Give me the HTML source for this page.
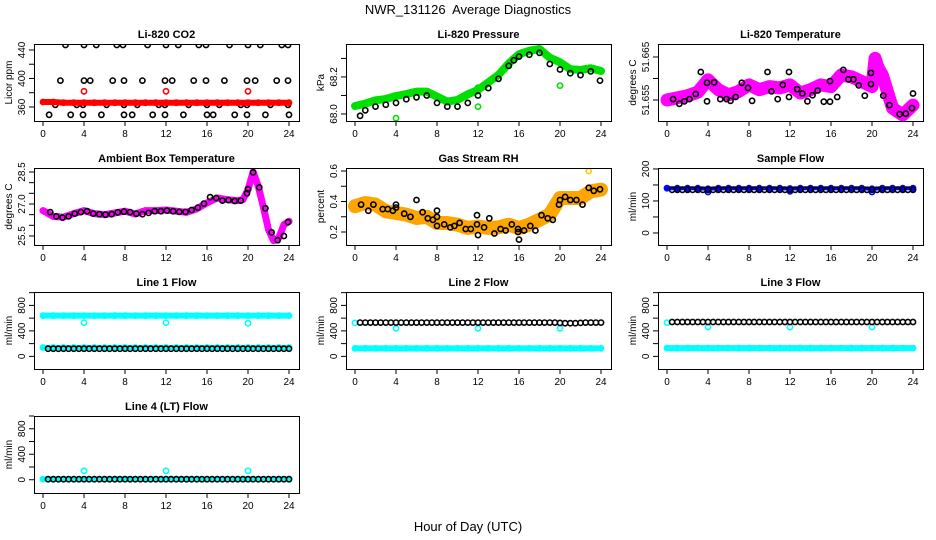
<!DOCTYPE html>
<html><head><meta charset="utf-8"><title>NWR_131126 Average Diagnostics</title>
<style>
html,body{margin:0;padding:0;background:#fff;}
svg{display:block;font-family:"Liberation Sans",sans-serif;}
</style></head>
<body>
<svg id="chart" width="936" height="540" viewBox="0 0 936 540" xmlns="http://www.w3.org/2000/svg">
<rect x="0" y="0" width="936" height="540" fill="#fff"/>
<text x="468" y="14" text-anchor="middle" font-size="13" style="white-space:pre">NWR_131126&#160; Average Diagnostics</text>
<text x="468" y="531" text-anchor="middle" font-size="13">Hour of Day (UTC)</text>
</svg>
<script>
// ---------- shared axis data ----------
const xTicks = [0,4,8,12,16,20,24];
const hourly = [0,1,2,3,4,5,6,7,8,9,10,11,12,13,14,15,16,17,18,19,20,21,22,23,24];
const halfHours = [0.5,1,1.5,2,2.5,3,3.5,4,4.5,5,5.5,6,6.5,7,7.5,8,8.5,9,9.5,10,10.5,11,11.5,12,12.5,13,13.5,14,14.5,15,15.5,16,16.5,17,17.5,18,18.5,19,19.5,20,20.5,21,21.5,22,22.5,23,23.5,24];

// ---------- CO2 ----------
const co2Hours = [2.2,4.0,5.2,7.2,7.8,10.2,12.0,13.2,15.2,15.9,18.2,20.0,21.2,23.3,23.9, 1.7,4.0,4.6,6.8,7.9,9.7,11.9,12.6,14.7,15.9,17.7,19.9,20.7,22.8,23.9, 1.2,3.3,3.9,6.2,7.9,9.2,11.3,11.9,14.2,16.0,17.2,19.3,19.9,22.2,23.9, 0.6,2.7,3.9,5.7,7.9,8.7,10.7,11.9,13.7,16.0,16.6,18.7,19.9,21.7,24.0];
const co2Vals = [447,447,447,447,447,447,447,447,447,447,447,447,447,447,447, 397,397,397,397,397,397,397,397,397,397,397,397,397,397,397, 363,363,363,363,363,363,363,363,363,363,363,363,363,363,363, 349,349,349,349,349,349,349,349,349,349,349,349,349,349,349];
const co2Red = [367,367,366,366,366,366,366,366,366,366,366,366,366,366,366,366,366,366,366,366,366,366,366,366,366];
const co2RedOutH = [4,12,20];
const co2RedOutV = [382,382,382];

// ---------- Pressure ----------
const presGreen = [68.043,68.056,68.074,68.081,68.097,68.108,68.121,68.121,68.094,68.067,68.076,68.106,68.130,68.171,68.211,68.274,68.323,68.341,68.351,68.304,68.279,68.242,68.238,68.247,68.232];
const presBlackH = [0.5,1.0,2.0,3.0,4.0,5.0,6.0,7.0,8.0,9.0,10.0,11.0,12.0,13.0,14.0,15.0,15.5,16.0,17.0,18.0,19.0,20.0,21.0,22.0,23.0,23.9];
const presBlackV = [67.99,68.02,68.04,68.05,68.06,68.08,68.09,68.10,68.06,68.04,68.04,68.06,68.10,68.14,68.19,68.26,68.29,68.31,68.32,68.33,68.27,68.24,68.22,68.21,68.23,68.18];
const presOutH = [4.0,12.0,12.0,20.0];
const presOutV = [67.977,68.04,68.142,68.153];

// ---------- Li-820 Temperature ----------
const tempMagH = [0,1,2,3,4,5,6,7,8,9,10,11,12,13,14,15,16,17,18,19,20,20.3,20.6,21,22,23,24];
const tempMagV = [51.655,51.6555,51.656,51.6568,51.6597,51.6574,51.6562,51.657,51.6585,51.6574,51.6581,51.6578,51.6585,51.6566,51.6574,51.6585,51.6581,51.6608,51.6604,51.6593,51.6581,51.6647,51.6625,51.6608,51.6531,51.6515,51.6538];
const tempBlackH = [0.6,1.2,1.7,2.2,2.8,3.3,3.9,3.9,4.6,5.2,5.8,6.2,6.7,7.3,7.9,8.3,9.8,10.2,10.8,11.3,11.9,11.9,12.7,13.2,13.7,14.2,14.7,15.3,15.9,15.9,16.6,17.2,17.7,18.2,18.7,19.3,19.9,19.9,21.1,21.7,22.7,23.3,23.9,24.0];
const tempBlackV = [51.6552,51.6541,51.6547,51.6552,51.6564,51.6615,51.659,51.6547,51.6591,51.6552,51.6552,51.6548,51.6557,51.659,51.6578,51.6548,51.6615,51.657,51.6552,51.6585,51.6615,51.6557,51.6575,51.6565,51.6547,51.6561,51.6572,51.6546,51.6546,51.6594,51.6557,51.662,51.6598,51.6598,51.6584,51.656,51.6613,51.6587,51.656,51.6538,51.6517,51.6518,51.6531,51.6565];

// ---------- Ambient Box Temperature ----------
const ambMagH = [0,1,2,3,4,5,6,7,8,9,10,11,12,13,14,15,16,17,18,19,19.5,20,20.5,21,21.5,22,22.5,23,23.5,24];
const ambMagV = [26.69,26.42,26.38,26.55,26.69,26.55,26.50,26.58,26.66,26.53,26.69,26.69,26.72,26.66,26.61,26.77,27.05,27.28,27.20,27.16,27.2,27.67,28.5,27.83,26.85,25.80,25.28,25.41,26.03,26.19];
const ambBlackH = [0.7,1.3,1.9,2.5,3.1,3.7,4.3,4.9,5.5,6.1,6.7,7.3,7.9,8.5,9.1,9.7,10.3,10.9,11.5,12.1,12.7,13.3,13.9,14.5,15.1,15.7,16.3,16.9,17.5,18.1,18.7,19.3,19.9,20.0,20.5,21.1,21.7,22.3,22.9,23.5,23.9];
const ambBlackV = [26.62,26.42,26.36,26.42,26.55,26.62,26.66,26.55,26.52,26.50,26.52,26.61,26.64,26.62,26.55,26.52,26.58,26.66,26.66,26.69,26.66,26.63,26.63,26.72,26.83,27.02,27.32,27.28,27.16,27.18,27.14,27.16,27.5,27.7,28.48,27.78,26.8,25.67,25.3,25.5,26.15];

// ---------- Gas Stream RH ----------
const rhOrange = [0.369,0.39,0.38,0.336,0.325,0.314,0.292,0.30,0.259,0.259,0.248,0.226,0.236,0.226,0.23,0.248,0.226,0.248,0.281,0.314,0.423,0.423,0.423,0.467,0.478];
const rhBlackH = [0.6,1.3,1.8,2.7,3.2,3.7,4.0,4.0,4.8,5.4,6.0,6.6,7.1,7.6,8.0,8.0,8.0,8.7,9.3,9.7,10.2,10.8,11.3,11.9,11.9,12.0,12.6,13.1,13.6,14.2,14.7,15.3,15.9,15.9,16.0,16.5,17.1,17.6,18.2,18.8,19.3,19.9,20.0,20.5,21.0,21.6,22.2,22.8,23.3,23.9];
const rhBlackV = [0.38,0.34,0.38,0.35,0.35,0.34,0.38,0.36,0.32,0.30,0.41,0.33,0.29,0.28,0.34,0.30,0.24,0.25,0.23,0.24,0.26,0.22,0.22,0.31,0.25,0.18,0.23,0.29,0.19,0.22,0.21,0.25,0.22,0.20,0.15,0.21,0.24,0.21,0.31,0.29,0.28,0.38,0.41,0.43,0.41,0.41,0.38,0.49,0.47,0.48];
const rhOutH = [22.8];
const rhOutV = [0.60];

// ---------- Sample Flow ----------
const sampBlue = [140,140,140,140,138,140,140,140,140,140,140,140,139,140,140,140,140,140,140,140,138,140,140,140,140];
const sampBlack = [135,135,135,135,135,135,135,135,135,135,135,135,135,135,135,135,135,135,135,135,135,135,135,135,135,135,135,135,135,135,135,135,135,135,135,135,135,135,135,135,135,135,135,135,135,135,135,135];
const sampOutH = [4,12,20];
const sampOutV = [128,130,128];

// ---------- Line flows ----------
const l1CyanHigh = [640,640,640,640,640,640,640,640,640,640,640,640,640,640,640,640,640,640,640,640,640,640,640,640,640];
const l1CyanLow = [140,140,140,140,140,140,140,140,140,140,140,140,140,140,140,140,140,140,140,140,140,140,140,140,140];
const l1Black = [120,120,120,120,120,120,120,120,120,120,120,120,120,120,120,120,120,120,120,120,120,120,120,120,120,120,120,120,120,120,120,120,120,120,120,120,120,120,120,120,120,120,120,120,120,120,120,120];
const l1DipH = [4,12,20];
const l1DipV = [530,530,520];

const l2CyanLow = [125,125,125,125,125,125,125,125,125,125,125,125,125,125,125,125,125,125,125,125,125,125,125,125,125];
const l2Black = [530,530,530,530,530,530,530,530,530,530,530,530,530,530,530,530,530,530,530,530,530,530,530,530,530,530,530,530,530,530,530,530,530,530,530,530,530,530,530,525,520,520,520,525,530,530,530,530];
const l2CyanPtH = [0,4,12,20];
const l2CyanPtV = [525,440,440,440];

const l3CyanLow = [130,130,130,130,130,130,130,130,130,130,130,130,130,130,130,130,130,130,130,130,130,130,130,130,130];
const l3Black = [540,540,540,540,540,540,540,540,540,540,540,540,540,540,540,540,540,540,540,540,540,540,540,540,540,540,540,540,540,540,540,540,540,540,540,540,540,540,540,540,540,540,540,540,540,540,540,540];
const l3CyanPtH = [0,4,12,20];
const l3CyanPtV = [530,460,460,460];

const l4CyanLow = [10,10,10,10,10,10,10,10,10,10,10,10,10,10,10,10,10,10,10,10,10,10,10,10,10];
const l4Black = [8,8,8,8,8,8,8,8,8,8,8,8,8,8,8,8,8,8,8,8,8,8,8,8,8,8,8,8,8,8,8,8,8,8,8,8,8,8,8,8,8,8,8,8,8,8,8,8];
const l4CyanPtH = [4,12,20];
const l4CyanPtV = [140,140,140];

const flowTicks = [0,200,400,600,800,1000];
const flowLabels = [0,400,800];

// ---------- drawing ----------
const NS = 'http://www.w3.org/2000/svg';
const svg = document.getElementById('chart');
const colLeft = [34,346,658], rowTop = [44,168,292,416];
const BW = 265, BH = 77;

function mk(tag, parent){ const e = document.createElementNS(NS, tag); parent.appendChild(e); return e; }

function panel(cfg){
  const L = colLeft[cfg.col], T = rowTop[cfg.row];
  const g = mk('g', svg);
  
  
  const xs = h => L + 9 + h / 24 * 246;
  const ys = v => T + (cfg.hi - v) / (cfg.hi - cfg.lo) * BH;
  const t = mk('text', g);
  
  
  t.setAttribute('x', L + BW/2); t.setAttribute('y', T - 6);
  t.setAttribute('text-anchor','middle'); t.setAttribute('font-size','11'); t.setAttribute('font-weight','bold');
  t.textContent = cfg.title;
  const clip = mk('clipPath', g); clip.setAttribute('id','clip-' + cfg.name);
  const cr = mk('rect', clip); cr.setAttribute('x',L); cr.setAttribute('y',T); cr.setAttribute('width',BW); cr.setAttribute('height',BH);
  const marks = mk('g', g); marks.setAttribute('clip-path','url(#clip-' + cfg.name + ')');
  
  
  cfg.layers.forEach(ly => {
    if (ly.band){
      const p = mk('polyline', marks);
      
      
      p.setAttribute('points', ly.h.map((h,i)=> xs(h).toFixed(1)+','+ys(ly.v[i]).toFixed(1)).join(' '));
      p.setAttribute('fill','none'); p.setAttribute('stroke', ly.color);
      p.setAttribute('stroke-width', ly.band); p.setAttribute('stroke-linejoin','round'); p.setAttribute('stroke-linecap','round');
    }
    ly.h.forEach((h,i) => {
      const c = mk('circle', marks);
      
      
      c.setAttribute('cx', xs(h).toFixed(1)); c.setAttribute('cy', ys(ly.v[i]).toFixed(1));
      c.setAttribute('r', 2.6); c.setAttribute('fill','none');
      c.setAttribute('stroke', ly.color); c.setAttribute('stroke-width', 1.6);
    });
  });
  const box = mk('rect', g);
  
  
  box.setAttribute('x',L+0.5); box.setAttribute('y',T+0.5); box.setAttribute('width',BW); box.setAttribute('height',BH);
  box.setAttribute('fill','none'); box.setAttribute('stroke','#000'); box.setAttribute('stroke-width','1');
  xTicks.forEach(h => {
    const ln = mk('line', g);
    
    
    ln.setAttribute('x1', xs(h)); ln.setAttribute('x2', xs(h)); ln.setAttribute('y1', T+BH); ln.setAttribute('y2', T+BH+5);
    ln.setAttribute('stroke','#000');
    const tx = mk('text', g);
    
    
    tx.setAttribute('x', xs(h)); tx.setAttribute('y', T+BH+16); tx.setAttribute('text-anchor','middle'); tx.setAttribute('font-size','10');
    tx.textContent = h;
  });
  cfg.yticks.forEach(v => {
    const ln = mk('line', g);
    
    
    ln.setAttribute('x1', L); ln.setAttribute('x2', L-5); ln.setAttribute('y1', ys(v)); ln.setAttribute('y2', ys(v));
    ln.setAttribute('stroke','#000');
  });
  cfg.ylabels.forEach(v => {
    const tx = mk('text', g);
    
    
    const x = L - 9, y = ys(v);
    tx.setAttribute('transform', 'translate(' + x + ',' + y + ') rotate(-90)');
    tx.setAttribute('text-anchor','middle'); tx.setAttribute('font-size','10');
    tx.textContent = cfg.fmt ? cfg.fmt(v) : v;
  });
  const yl = mk('text', g);
  
  
  yl.setAttribute('transform', 'translate(' + (L-22) + ',' + (T+BH/2) + ') rotate(-90)');
  yl.setAttribute('text-anchor','middle'); yl.setAttribute('font-size','10');
  yl.textContent = cfg.ylab;
}

panel({name:'co2', col:0,row:0, title:'Li-820 CO2', ylab:'Licor ppm', hi:448.4, lo:340.3,
  yticks:[360,380,400,420,440], ylabels:[360,400,440],
  layers:[{id:'black',color:'#000',h:co2Hours,v:co2Vals},
          {id:'red',color:'#f00',h:hourly,v:co2Red,band:6},
          {id:'red-outlier',color:'#f00',h:co2RedOutH,v:co2RedOutV}]});
panel({name:'pressure', col:1,row:0, title:'Li-820 Pressure', ylab:'kPa', hi:68.378, lo:67.962,
  yticks:[68.0,68.1,68.2,68.3], ylabels:[68.0,68.2], fmt:v=>v.toFixed(1),
  layers:[{id:'green',color:'#00e000',h:hourly,v:presGreen,band:8},
          {id:'green-outlier',color:'#00e000',h:presOutH,v:presOutV},
          {id:'black',color:'#000',h:presBlackH,v:presBlackV}]});
panel({name:'li820-temp', col:2,row:0, title:'Li-820 Temperature', ylab:'degrees C', hi:51.66802, lo:51.65011,
  yticks:[51.655,51.66,51.665], ylabels:[51.655,51.665], fmt:v=>v.toFixed(3),
  layers:[{id:'magenta',color:'#ff00ff',h:tempMagH,v:tempMagV,band:13},
          {id:'black',color:'#000',h:tempBlackH,v:tempBlackV}]});
panel({name:'ambient-temp', col:0,row:1, title:'Ambient Box Temperature', ylab:'degrees C', hi:28.6875, lo:25.077,
  yticks:[25.5,26,26.5,27,27.5,28,28.5], ylabels:[25.5,27.0,28.5], fmt:v=>v.toFixed(1),
  layers:[{id:'magenta',color:'#ff00ff',h:ambMagH,v:ambMagV,band:7},
          {id:'black',color:'#000',h:ambBlackH,v:ambBlackV}]});
panel({name:'rh', col:1,row:1, title:'Gas Stream RH', ylab:'percent', hi:0.6197, lo:0.1148,
  yticks:[0.2,0.3,0.4,0.5,0.6], ylabels:[0.2,0.4,0.6], fmt:v=>v.toFixed(1),
  layers:[{id:'orange',color:'#ffa500',h:hourly,v:rhOrange,band:14},
          {id:'orange-outlier',color:'#ffcc00',h:rhOutH,v:rhOutV},
          {id:'black',color:'#000',h:rhBlackH,v:rhBlackV}]});
panel({name:'sample-flow', col:2,row:1, title:'Sample Flow', ylab:'ml/min', hi:203, lo:-37.6,
  yticks:[0,50,100,150,200], ylabels:[0,100,200],
  layers:[{id:'blue',color:'#0000ff',h:hourly,v:sampBlue,band:4},
          {id:'blue-outlier',color:'#0000ff',h:sampOutH,v:sampOutV},
          {id:'black',color:'#000',h:halfHours,v:sampBlack}]});
panel({name:'line1-flow', col:0,row:2, title:'Line 1 Flow', ylab:'ml/min', hi:1010, lo:-198,
  yticks:flowTicks, ylabels:flowLabels,
  layers:[{id:'cyan-high',color:'#00ffff',h:hourly,v:l1CyanHigh,band:6},
          {id:'cyan-low',color:'#00ffff',h:hourly,v:l1CyanLow,band:5},
          {id:'cyan-dip',color:'#00ffff',h:l1DipH,v:l1DipV},
          {id:'black',color:'#000',h:halfHours,v:l1Black}]});
panel({name:'line2-flow', col:1,row:2, title:'Line 2 Flow', ylab:'ml/min', hi:1010, lo:-198,
  yticks:flowTicks, ylabels:flowLabels,
  layers:[{id:'cyan-low',color:'#00ffff',h:hourly,v:l2CyanLow,band:6},
          {id:'cyan-point',color:'#00ffff',h:l2CyanPtH,v:l2CyanPtV},
          {id:'black',color:'#000',h:halfHours,v:l2Black}]});
panel({name:'line3-flow', col:2,row:2, title:'Line 3 Flow', ylab:'ml/min', hi:1010, lo:-198,
  yticks:flowTicks, ylabels:flowLabels,
  layers:[{id:'cyan-low',color:'#00ffff',h:hourly,v:l3CyanLow,band:6},
          {id:'cyan-point',color:'#00ffff',h:l3CyanPtH,v:l3CyanPtV},
          {id:'black',color:'#000',h:halfHours,v:l3Black}]});
panel({name:'line4-flow', col:0,row:3, title:'Line 4 (LT) Flow', ylab:'ml/min', hi:1000, lo:-208,
  yticks:flowTicks, ylabels:flowLabels,
  layers:[{id:'cyan-low',color:'#00ffff',h:hourly,v:l4CyanLow,band:5},
          {id:'cyan-point',color:'#00ffff',h:l4CyanPtH,v:l4CyanPtV},
          {id:'black',color:'#000',h:halfHours,v:l4Black}]});
</script>
</body></html>
